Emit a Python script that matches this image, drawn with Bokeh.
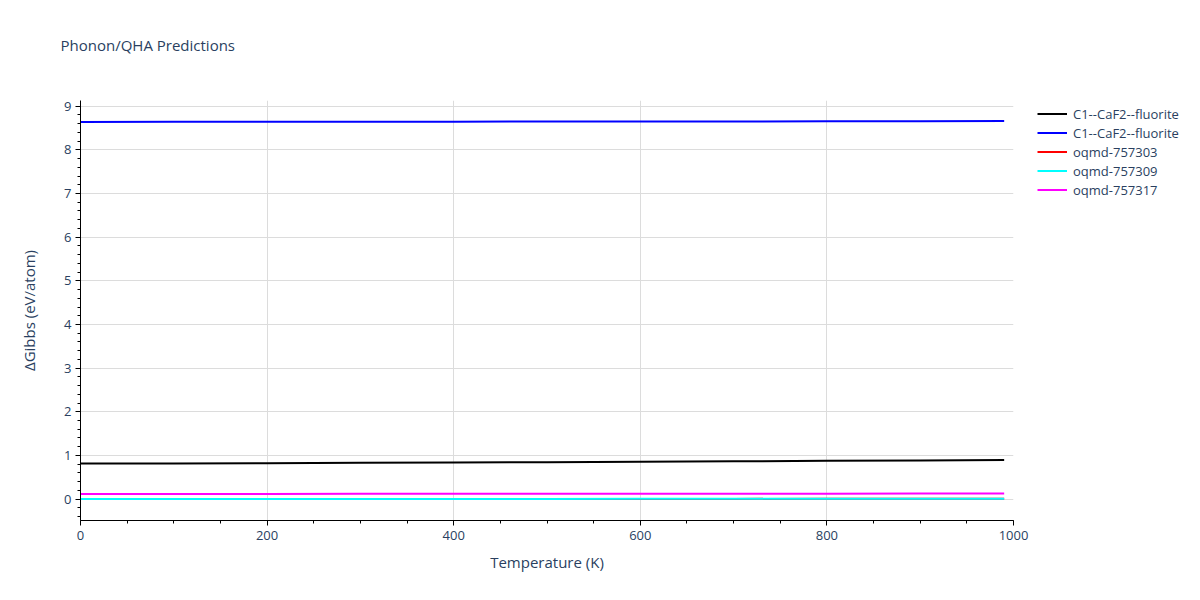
from bokeh.plotting import figure
from bokeh.models import Range1d, Legend, LegendItem, FixedTicker, Title
from bokeh.embed import file_html
from bokeh.resources import INLINE

# ---- data ----
temperature = [0, 100, 200, 300, 400, 500, 600, 700, 800, 900, 990]
c1_caf2_a = [0.815, 0.818, 0.823, 0.830, 0.838, 0.847, 0.856, 0.866, 0.876, 0.886, 0.895]
c1_caf2_b = [8.640, 8.641, 8.642, 8.643, 8.645, 8.647, 8.649, 8.651, 8.653, 8.656, 8.658]
oqmd_757303 = [0.000, 0.000, 0.001, 0.001, 0.002, 0.003, 0.004, 0.005, 0.006, 0.007, 0.008]
oqmd_757309 = [0.002, 0.002, 0.003, 0.003, 0.004, 0.005, 0.006, 0.007, 0.008, 0.009, 0.010]
oqmd_757317 = [0.118, 0.118, 0.119, 0.120, 0.121, 0.122, 0.123, 0.124, 0.125, 0.126, 0.127]

series_names = ["C1--CaF2--fluorite", "C1--CaF2--fluorite", "oqmd-757303", "oqmd-757309", "oqmd-757317"]
series_values = [c1_caf2_a, c1_caf2_b, oqmd_757303, oqmd_757309, oqmd_757317]
series_colors = ["black", "blue", "red", "cyan", "magenta"]

x_ticks = [0, 200, 400, 600, 800, 1000]
y_ticks = [0, 1, 2, 3, 4, 5, 6, 7, 8, 9]

TEXT = "#2a3f5f"
FONT = "Open Sans"

p = figure(width=1200, height=600, frame_width=933, frame_height=420,
           output_backend="svg", toolbar_location=None,
           x_range=Range1d(0, 1000), y_range=Range1d(-0.49, 9.13),
           min_border_left=80, min_border_right=10, min_border_top=100, min_border_bottom=80)
p.outline_line_color = None
p.background_fill_color = "white"
p.border_fill_color = "white"

xax = p.xaxis[0]
yax = p.yaxis[0]

renderers = []
for name, vals, col in zip(series_names, series_values, series_colors):
    r = p.line(temperature, vals, line_color=col, line_width=2)
    renderers.append((name, r))

legend = Legend(items=[LegendItem(label=n, renderers=[r]) for n, r in renderers],
                location=(24, 321), padding=0, margin=0, spacing=0,
                label_height=19, glyph_height=19, glyph_width=30, label_standoff=6,
                label_text_font=FONT, label_text_font_size="13px", label_text_color=TEXT,
                border_line_alpha=0, background_fill_alpha=0)
p.add_layout(legend, "right")

# axes
for ax in (xax, yax):
    ax.axis_line_color = "black"
    ax.major_tick_line_color = "black"
    ax.minor_tick_line_color = "black"
    ax.major_tick_out = 5
    ax.major_tick_in = 0
    ax.minor_tick_out = 3
    ax.minor_tick_in = 0
    ax.major_label_text_font = FONT
    ax.major_label_text_font_size = "13px"
    ax.major_label_text_color = TEXT
    ax.axis_label_text_font = FONT
    ax.axis_label_text_font_size = "15px"
    ax.axis_label_text_color = TEXT
    ax.axis_label_text_font_style = "normal"

xax.ticker = FixedTicker(ticks=x_ticks, minor_ticks=list(range(0, 1001, 50)))
yax.ticker = FixedTicker(ticks=y_ticks, minor_ticks=[round(-0.4 + 0.2 * i, 1) for i in range(48)])
xax.axis_label = "Temperature (K)"
yax.axis_label = "ΔGibbs (eV/atom)"
xax.axis_label_standoff = 9
yax.axis_label_standoff = 22
xax.major_label_standoff = 5
yax.major_label_standoff = 4

p.xgrid.grid_line_color = "#dcdcdc"
p.ygrid.grid_line_color = "#dcdcdc"

# blank title acting as vertical gap, then the real title above it
p.add_layout(Title(text=" ", text_font=FONT, text_font_size="29px", standoff=0), "above")
p.add_layout(Title(text="Phonon/QHA Predictions", text_font=FONT, text_font_size="15px",
                   text_color=TEXT, text_font_style="normal", align="left",
                   offset=-20), "above")

open("out.html", "w").write(file_html(p, INLINE))
